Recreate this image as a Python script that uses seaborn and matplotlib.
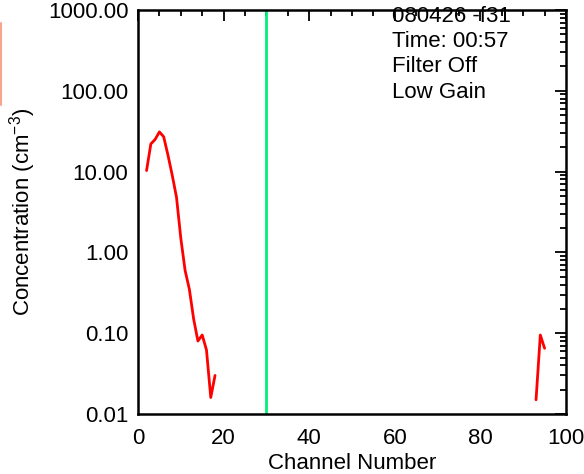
import numpy as np
import pandas as pd
import matplotlib
matplotlib.use("Agg")
import matplotlib.pyplot as plt
import matplotlib.ticker as mticker
import seaborn as sns

# ---- data ----
channels_low = [2, 3, 4, 5, 6, 7, 8, 9, 10, 11, 12, 13, 14, 15, 16, 17, 18]
conc_low = [10.3, 22, 25, 31, 27, 16, 9.0, 4.8, 1.5, 0.6, 0.35, 0.15, 0.08,
            0.095, 0.062, 0.016, 0.03]
channels_high = [93, 94, 95]
conc_high = [0.015, 0.095, 0.065]
threshold_channel = 30
info_lines = ["080426 -f31", "Time: 00:57", "Filter Off", "Low Gain"]
y_ticks = [0.01, 0.1, 1, 10, 100, 1000]
y_tick_labels = ["0.01", "0.10", "1.00", "10.00", "100.00", "1000.00"]
x_ticks = [0, 20, 40, 60, 80, 100]

df = pd.DataFrame({
    "channel": channels_low + channels_high,
    "conc": conc_low + conc_high,
    "segment": ["a"] * len(channels_low) + ["b"] * len(channels_high),
})

sns.set_style("white")
plt.rcParams["font.family"] = ["Liberation Sans", "DejaVu Sans"]
plt.rcParams["mathtext.fontset"] = "custom"
plt.rcParams["mathtext.rm"] = "Liberation Sans"
plt.rcParams["mathtext.it"] = "Liberation Sans"
plt.rcParams["text.color"] = "black"
plt.rcParams["axes.labelcolor"] = "black"
plt.rcParams["xtick.color"] = "black"
plt.rcParams["ytick.color"] = "black"

FS = 16

fig = plt.figure(figsize=(5.84, 4.74), dpi=100)
ax = fig.add_axes([138 / 584, 1 - 414 / 474, (566 - 138) / 584, (414 - 10) / 474])

sns.lineplot(data=df, x="channel", y="conc", units="segment", estimator=None,
             color="#ff0000", linewidth=2.0, ax=ax, legend=False)
ax.axvline(threshold_channel, color="#00f07a", linewidth=2.0)

ax.set_yscale("log")
ax.set_xlim(0, 100)
ax.set_ylim(0.01, 1000)
ax.set_yticks(y_ticks)
ax.set_yticklabels(y_tick_labels)
ax.yaxis.set_minor_locator(mticker.LogLocator(base=10, subs=np.arange(2, 10)))
ax.yaxis.set_minor_formatter(mticker.NullFormatter())
ax.set_xticks(x_ticks)
ax.xaxis.set_minor_locator(mticker.MultipleLocator(5))

ax.tick_params(which="both", direction="in", top=True, right=True,
               labelsize=FS, color="black", labelcolor="black", width=1.3)
ax.tick_params(axis="x", which="major", length=8, pad=10)
ax.tick_params(axis="x", which="minor", length=4)
ax.tick_params(axis="y", which="major", length=8, pad=7)
ax.tick_params(axis="y", which="minor", length=4.5)

for s in ax.spines.values():
    s.set_linewidth(1.8)
    s.set_color("black")

ax.set_xlabel("Channel Number", fontsize=FS, labelpad=3)
ax.set_ylabel("Concentration (cm$^{-3}$)", fontsize=FS, labelpad=7)

for i, line in enumerate(info_lines):
    fig.text(392 / 584, 1 - (16 + 25.5 * i) / 474, line, fontsize=FS,
             ha="left", va="center")

# faint salmon mark at the left edge of the reference image
fig.add_artist(plt.Line2D([0.5 / 584, 0.5 / 584], [1 - 23 / 474, 1 - 105 / 474],
                          transform=fig.transFigure, color="#f6a58f", linewidth=1.5))

fig.savefig("out.png", dpi=100)
